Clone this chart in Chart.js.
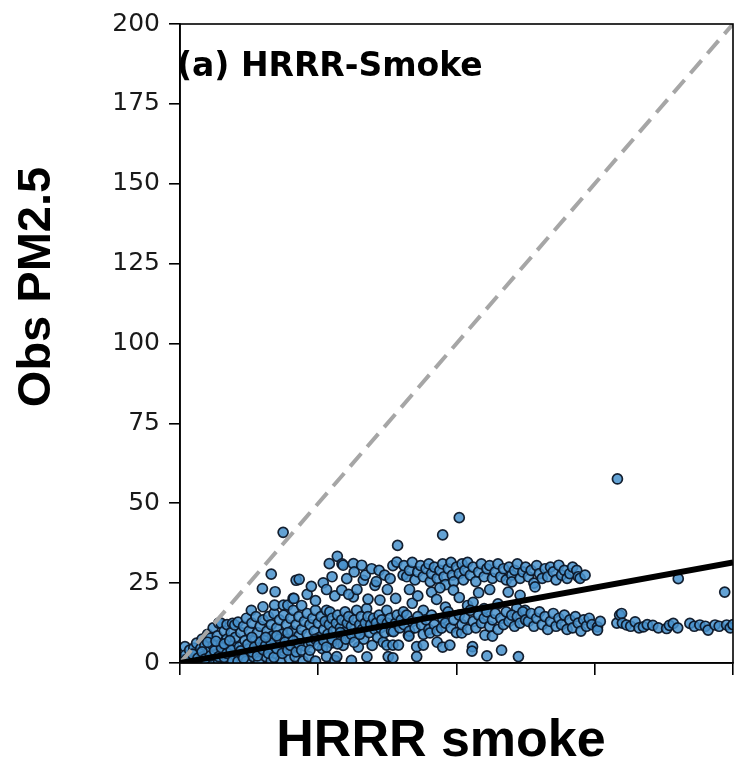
<!DOCTYPE html>
<html>
<head>
<meta charset="utf-8">
<script src="https://cdn.jsdelivr.net/npm/chart.js@4"></script>
<style>
  html, body { margin: 0; padding: 0; background: #ffffff; }
  #wrap { width: 735px; height: 762px; }
</style>
</head>
<body>
<div id="wrap"><canvas id="grafico" width="735" height="762"></canvas></div>
<script>
// --- Data: [HRRR smoke, Obs PM2.5] pairs ---
const nearOrigin = [
    [1,1],[1.8,5.1],[2,2.5],[3,0.3],[3.5,4],[4,1.5],[5,4.7],[5,0.4],[6,2.8],[6,6.2],
    [7,0.6],[7.5,4.5],[8,7.5],[8.5,2],[9,5.5],[9.5,0.4],[10,9],[10.5,3.5],[11,7.8],[11.5,1],
    [12,11],[12,5.5],[13,2.5],[13.5,8.5],[14,12.5],[14,0.5],[14.8,12.5],[15,6],[15.5,3],[16,10],
    [16.5,0.8],[17,12],[17,7.5],[17.5,4.5],[18,1.5],[18.5,9.5],[19,12.4],[19.3,5.5],[19.8,11.9],[20,2.5],[20,8],
    [2.5,1.2],[4.5,2.8],[6.5,1.5],[8,3.5],[9,1.2],[11,2.2],[12.5,3.8],[14,2],[15,4.8],[16,1.8],
    [17,3],[18.5,4],[19,0.6],[10,6.5],[13,6.8],[16,6],[18,7]
];
const lowCluster = [
    [21,0.5],[21,12.8],[21.5,5],[22,9.5],[22.5,2.5],[23,11.5],[23.5,7],[24,14],[24,0.6],[25,4.5],
    [25,10],[25.8,16.5],[26,12.5],[26.5,2],[27,7],[27.5,14.5],[28,9.5],[28.5,0.5],[29,4],[29,11.5],
    [30,17.6],[30,13.5],[30.5,7],[31,2],[31.5,10],[32,14.5],[32.5,5],[33,12],[33,0.7],[33.5,8.5],
    [34,15.5],[34.2,18.1],[34.5,3],[35,11],[35.5,6],[36,13.5],[36.5,1],[37,9],[37.4,18.1],[37.5,15],
    [38,4.5],[38.5,12],[39,18.1],[39,7.5],[39.5,1.5],[40,14],[40.5,10],[40.9,20.2],[41,16.5],[41.6,2],
    [42,12],[42,5.5],[43,14.5],[43,8.5],[44,18],[44,10.5],[44.5,0.6],[45,13],[45.2,5.3],
    [22,3.8],[23,1.5],[24.5,5.8],[26,3.5],[27,5],[28,2.2],[29,6.5],[30,4.2],[31,5.5],[32,3],
    [33,6.2],[34,1.8],[35,4.5],[36,7.5],[37,3],[38,6.5],[39,4],[40,5.5],[41,7],[42,3.5],
    [43,6],[44,4],[26,8],[31,8],[35,8.5],[39,9.5]
];
const midCluster = [
    [46,9],[46,15.5],[46.5,2],[47,12],[47.5,6.5],[48,14],[48.5,10],[49,0.6],[49,16.5],[50,12.5],
    [50.5,8],[51,14.5],[51.5,4.5],[52,10.5],[52.5,13],[53,2],[53,16.5],[53.5,9],[54,12],[54.2,16],
    [54.9,6.3],[55,14],[55.5,10],[56,0.8],[56.7,2],[56.5,12.5],[57,15],[57.5,8.5],[58,11],[58.5,13.5],
    [59,5.5],[59.7,16],[60,10],[60.5,12.5],[61,14.5],[61.5,8],[62,0.8],[62,11.5],[62.7,20.7],[63,13.5],
    [63.9,16.5],[64,9.5],[64.5,5],[65,12],[65.5,14.5],[66,10.5],[66.5,7.5],[67,12.5],[67.6,1.9],[67.5,17],
    [68,14.5],[68.5,9.5],[69,12],[69.5,5.5],[70,14],[70.5,10.5],[71,12.5],[71.5,8],[72,15],[72.3,19.7],
    [72.5,11],[73,13.5],[73.5,6.5],[74,9.5],[74.8,16.5],[74.8,5.6],[75.3,2],[75,12.5],[76,14],[76.5,10],
    [77,1.6],[77,5.6],[77.2,9.8],[78,20.2],[78,12.5],[78.5,15],[79,5.6],[79.5,11],[80,13.5],[80.8,16],
    [47,4],[49,7.5],[50,5.5],[52,7],[53,5],[55,7.5],[57,6],[58,9.5],[60,7.5],[62,9],[63,6.5],[65,9]
];
const upperCluster = [
    [29.8,23.3],[33,27.8],[34.4,22.3],[37.3,40.9],[41.2,20.2],[42,25.9],[43.1,26.2],[46,21.5],[47.5,24],[49,19.5],
    [51.8,25.1],[53,23],[54,31.1],[55,27],[56,21],[56.9,33.4],[58.5,22.8],[58.6,31],[59,30.6],[60.3,26.4],
    [61,21.5],[62.7,31.1],[63,28.5],[64,23],[65.7,30.6],[66.3,25.9],[67,27.5],[68,20],[69.3,29.5],[70.5,24.3],
    [71,25.5],[72,29],[74,27.5],[75,23],[76,26.4],[77,30.5],[78.4,31.6],[78.7,36.8],[80.7,27.5]
];
const upperBand = [
    [81,30.5],[82,27],[83,29],[84,31.5],[85,26],[86,28.5],[87,30.5],[88,27],[89,29.5],[90,31],
    [90.5,25.5],[91,28],[92,30],[93,26.5],[94,29],[95,31],[95.5,27],[96,24.5],[97,29.5],[98,31.5],
    [98.5,27.5],[99,25.5],[100,30],[101,28],[102,31],[102.5,26],[103,29],[104,31.5],[105,27.5],[106,30],
    [107,25.5],[108,28.5],[109,31],[110,27],[111,29.5],[112,30.5],[113,26.5],[114,28.5],[115,31],[116,27],
    [117,29.5],[118,26],[119,30],[120,27.5],[120,25.4],[121,29],[122,31],[123,26.5],[124,28.5],[125,30],
    [126,27],[127,29],[128,25],[128.4,23.8],[129,30.5],[130,28],[131,26.5],[132,29.5],[133,27],[134,30],
    [135,28.5],[136,26],[137,30.6],[138,27.5],[139,29],[140,26.5],[141,28],[142,30],[143.5,29],[144,27],
    [144.7,26.5],[146.5,27.5]
];
const midBand = [
    [83,23],[84,18.7],[86,21],[88,16.5],[91,22.2],[92.8,19.9],[94,23.5],[96,17.5],[98.9,22.8],[101,20.5],
    [104,18],[106,19],[108,22],[110,17],[112,23],[115,18.5],[118.7,22.2],[121.8,17.2],[123,21.2],[124.8,16.5]
];
const lowBand = [
    [81,12],[82,15],[82.6,8.7],[83,10],[84,13],[85,11],[86,14.5],[87.4,11.9],[88,9],[89,13.5],
    [90,10.5],[90.4,9.4],[91,15],[92,12],[93,10],[94.6,10.9],[95,14],[96,12.5],[97,16],[98,11],
    [99,13.5],[100,9.5],[101,15],[101.9,9.4],[102,12],[103,14],[104,10.5],[105,16.5],[106,13],[107,11],
    [108,15],[109,12.5],[110,14],[110.3,8.7],[111,16],[112,11.5],[113,8.4],[113,13.5],[114,15.5],[115,10.5],
    [116,14],[117,12],[118,16],[119,13],[120,15],[121,11.5],[122,14.5],[123,12.5],[124,16],[125,13.5],
    [126,13],[127,15.5],[128,11.5],[129,14],[130,16],[131,12],[132,14.5],[133,10.5],[134,13],[135,15.5],
    [136,11.5],[137,14],[138,12],[139,15],[140,10.5],[141,13.5],[142,11],[143,14.5],[144,12.5],[145,10],
    [146,13.5],[147,11.5],[148,14],[149,12],[151,11.3],[151,10.3],[152,13]
];
const lowScatter = [
    [82.8,8.4],[85.6,5.1],[85.6,2],[88,5.6],[93,6.5],[95,5],[97.6,5.6],[105.8,5.1],[105.6,3.7],[111,2.2],
    [116.3,4],[122.4,2]
];
const tailRow = [
    [158,12.5],[159,15],[159.7,15.5],[160,12.5],[161.5,11.9],[163,11.5],[164.6,12.9],[166,11],[167.6,11.3],[169,12],
    [171,11.8],[173,11],[176,10.8],[177,11.8],[178.4,12.4],[180,11],[184.4,12.4],[186,11.5],[188,11.9],[190,11.5],
    [191,10.3],[193.5,11.9],[195,11.5],[197.7,11.9],[199,11],[200,12]
];
const outliers = [[95,40.1],[101,45.5],[158.2,57.6],[180.2,26.4],[197,22.2]];

// --- Reference lines ---
const oneToOne = [[0,0],[200,200]];
const fitLine = [[0,0],[200,31.5]];

// --- Axes ---
const xTicks = [0, 50, 100, 150, 200];
const yTicks = [0, 25, 50, 75, 100, 125, 150, 175, 200];

const toXY = (pares) => pares.map(([x, y]) => ({ x, y }));
const allPoints = [].concat(nearOrigin, lowCluster, midCluster, upperCluster,
    upperBand, midBand, lowBand, lowScatter, tailRow, outliers);

// Frame, panel label and axis titles
const decorPlugin = {
    id: 'decor',
    afterDraw(chart) {
        const { ctx, chartArea: a } = chart;
        ctx.save();
        ctx.strokeStyle = '#000';
        ctx.lineWidth = 1.6;
        ctx.strokeRect(a.left, a.top, a.right - a.left, a.bottom - a.top);

        ctx.fillStyle = '#000';
        ctx.textBaseline = 'alphabetic';
        ctx.textAlign = 'left';
        ctx.font = 'bold 33px "DejaVu Sans"';
        ctx.fillText('(a) HRRR-Smoke', a.left - 3, 76);

        ctx.font = 'bold 52px "Liberation Sans", Arial, sans-serif';
        ctx.textAlign = 'center';
        ctx.fillText('HRRR smoke', 441, 756);

        ctx.translate(50, 287);
        ctx.rotate(-Math.PI / 2);
        ctx.font = 'bold 47px "Liberation Sans", Arial, sans-serif';
        ctx.fillText('Obs PM2.5', 0, 0);
        ctx.restore();
    }
};

const ctx = document.getElementById('grafico').getContext('2d');
new Chart(ctx, {
    type: 'scatter',
    data: {
        datasets: [
            {
                label: 'fit',
                data: toXY(fitLine),
                showLine: true,
                borderColor: '#000000',
                borderWidth: 6,
                pointRadius: 0,
                order: 0
            },
            {
                label: '1:1',
                data: toXY(oneToOne),
                showLine: true,
                borderColor: '#a6a6a6',
                borderWidth: 4,
                borderDash: [17, 9],
                pointRadius: 0,
                order: 1
            },
            {
                label: 'obs',
                data: toXY(allPoints),
                backgroundColor: 'rgba(72, 146, 205, 0.85)',
                borderColor: 'rgba(12, 22, 38, 0.95)',
                borderWidth: 1.7,
                pointRadius: 5,
                order: 2
            }
        ]
    },
    options: {
        responsive: false,
        animation: false,
        layout: { autoPadding: false, padding: { top: 22, right: 2, left: 0, bottom: 0 } },
        plugins: {
            legend: { display: false },
            tooltip: { enabled: false }
        },
        scales: {
            x: {
                type: 'linear',
                min: 0,
                max: 200,
                afterBuildTicks: (scale) => { scale.ticks = xTicks.map(v => ({ value: v })); },
                afterFit: (scale) => { scale.height = 99; },
                ticks: { display: false },
                grid: { drawOnChartArea: false, drawTicks: true, tickLength: 12, color: '#000', lineWidth: 1.6 },
                border: { display: true, color: '#000', width: 1.6 }
            },
            y: {
                type: 'linear',
                min: 0,
                max: 200,
                afterBuildTicks: (scale) => { scale.ticks = yTicks.map(v => ({ value: v })); },
                afterFit: (scale) => { scale.width = 180; },
                ticks: {
                    color: '#1a1a1a',
                    padding: 9,
                    font: { family: '"DejaVu Sans"', size: 25 }
                },
                grid: { drawOnChartArea: false, drawTicks: true, tickLength: 11, color: '#000', lineWidth: 1.6 },
                border: { display: true, color: '#000', width: 1.6 }
            }
        }
    },
    plugins: [decorPlugin]
});
</script>
</body>
</html>
